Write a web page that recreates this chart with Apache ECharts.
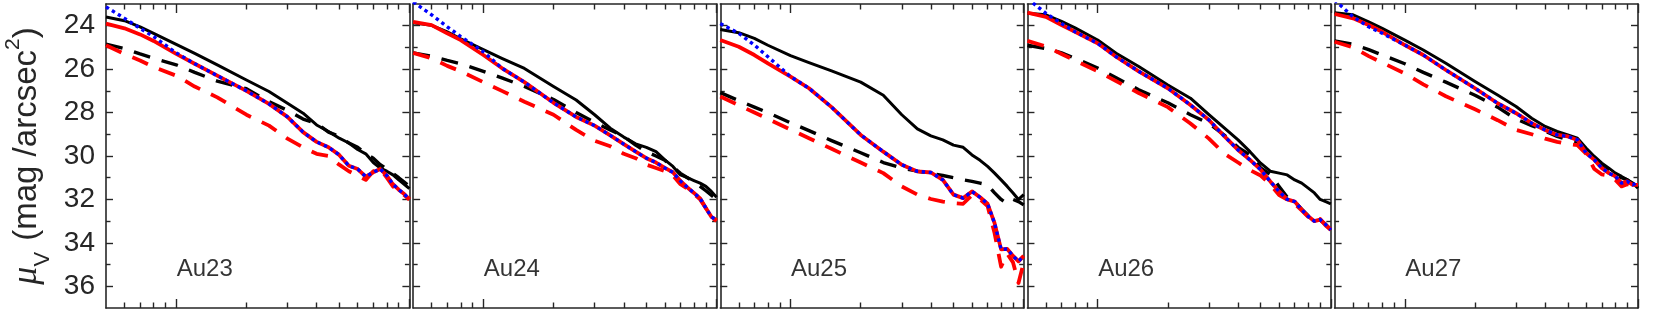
<!DOCTYPE html>
<html><head><meta charset="utf-8">
<script src="https://cdn.jsdelivr.net/npm/echarts@6/dist/echarts.min.js"></script>
<style>html,body{margin:0;padding:0;background:#fff}#c{width:1661px;height:314px}</style>
</head><body><div id="c"></div><script>
// ---------------- data ----------------
const radius = [0.5,0.6,0.7,0.8,1,1.2,1.5,2,2.5,3,3.5,4,4.5,5,5.5,6,6.5,7,7.5,8,8.5,9,9.5,10];
const panelNames = ['Au23','Au24','Au25','Au26','Au27'];
const yTickLabels = [24,26,28,30,32,34,36];
const yMinorTicks = [25,27,29,31,33,35];
const xMajorTicks = [1,10];
const xMinorTicks = [0.6,0.7,0.8,0.9,2,3,4,5,6,7,8,9];

const au23BlackSolid  = [23.6,23.77,24.05,24.35,24.86,25.27,25.8,26.5,27.03,27.57,28.03,28.57,28.87,29.18,29.4,29.7,29.9,30.3,30.56,30.7,30.87,31.1,31.3,31.5];
const au23BlackDashed = [24.85,25.05,25.3,25.5,25.8,26.15,26.55,26.9,27.5,27.9,28.3,28.5,28.9,29.1,29.4,29.6,29.9,30.1,30.4,30.6,30.8,31.0,31.2,31.4];
const au23RedSolid    = [23.9,24.12,24.4,24.7,25.3,25.75,26.3,27.0,27.6,28.2,28.9,29.35,29.6,29.95,30.45,30.6,30.95,30.75,30.6,30.9,31.3,31.55,31.75,32.0];
const au23RedDashed   = [24.9,25.3,25.6,25.9,26.3,26.8,27.3,28.1,28.6,29.2,29.6,29.9,30.0,30.4,30.7,30.9,31.1,30.7,30.6,31.0,31.4,31.6,31.8,32.0];
const au23Blue        = [23.13,23.66,24.12,24.5,25.25,25.75,26.3,27.0,27.6,28.2,28.9,29.35,29.6,29.95,30.45,30.6,30.95,30.75,30.6,30.9,31.3,31.55,31.75,32.0];

const au24BlackSolid  = [23.86,23.98,24.28,24.6,25.1,25.5,25.97,26.8,27.42,28.1,28.72,29.13,29.44,29.6,29.8,30.18,30.48,30.87,31.0,31.13,31.25,31.4,31.63,31.9];
const au24BlackDashed = [25.25,25.4,25.6,25.75,26.1,26.4,26.8,27.4,28.0,28.45,28.8,29.1,29.5,29.8,30.0,30.2,30.5,30.8,31.0,31.2,31.4,31.6,31.8,32.0];
const au24RedSolid    = [23.82,23.97,24.35,24.66,25.35,25.95,26.6,27.55,28.2,28.6,29.05,29.45,29.8,30.1,30.3,30.55,30.75,31.15,31.45,31.7,31.95,32.4,32.8,32.95];
const au24RedDashed   = [25.25,25.5,25.85,26.1,26.6,27.0,27.5,28.1,28.8,29.3,29.55,29.9,30.1,30.4,30.55,30.7,30.9,31.3,31.5,31.75,32.0,32.4,32.8,33.0];
const au24Blue        = [22.9,23.5,24.05,24.5,25.2,25.95,26.6,27.55,28.2,28.6,29.05,29.45,29.8,30.1,30.3,30.55,30.75,31.15,31.45,31.7,31.95,32.4,32.8,32.95];

const au25BlackSolid  = [24.17,24.32,24.58,24.9,25.38,25.7,26.08,26.6,27.2,28.1,28.75,29.07,29.26,29.5,29.6,29.95,30.2,30.48,30.79,31.1,31.4,31.7,32.0,31.78];
const au25BlackDashed = [27.08,27.45,27.75,28.0,28.47,28.83,29.29,29.85,30.3,30.56,30.7,30.8,30.9,31.0,31.1,31.17,31.25,31.33,31.7,32.0,32.2,32.0,32.1,32.25];
const au25RedSolid    = [24.66,24.97,25.35,25.73,26.34,26.88,27.75,29.03,29.8,30.4,30.71,30.76,31.1,31.78,31.94,31.63,31.9,32.2,33.09,34.3,34.28,34.6,34.85,34.6];
const au25RedDashed   = [27.26,27.66,28.0,28.29,28.78,29.18,29.67,30.3,30.79,31.4,31.78,31.98,32.1,32.17,32.2,31.8,32.0,32.3,33.55,35.1,34.5,34.9,35.85,34.9];
const au25Blue        = [23.9,24.35,24.89,25.43,26.34,26.88,27.75,29.03,29.8,30.4,30.71,30.76,31.1,31.78,31.94,31.63,31.9,32.2,33.09,34.3,34.28,34.6,34.85,34.6];

const au26BlackSolid  = [23.43,23.5,23.8,24.1,24.66,25.27,25.88,26.73,27.34,28.1,28.72,29.26,29.8,30.33,30.7,30.79,30.87,31.1,31.25,31.48,31.7,32.0,32.1,32.2];
const au26BlackDashed = [24.9,25.05,25.25,25.5,25.95,26.4,26.95,27.55,28.1,28.5,29.05,29.6,29.95,30.55,30.85,31.4,31.9,32.1,32.45,32.75,33.0,32.95,33.15,33.4];
const au26RedSolid    = [23.4,23.59,23.97,24.28,24.81,25.43,26.1,26.88,27.65,28.34,29.1,29.72,30.18,30.63,31.17,31.63,32.0,32.1,32.47,32.78,33.0,32.93,33.16,33.4];
const au26RedDashed   = [24.7,24.95,25.3,25.6,26.1,26.55,27.1,27.75,28.5,29.2,29.9,30.3,30.65,30.9,31.3,31.8,32.0,32.2,32.5,32.8,33.0,32.9,33.2,33.4];
const au26Blue        = [22.75,23.43,23.9,24.28,24.81,25.43,26.1,26.88,27.65,28.34,29.1,29.72,30.18,30.63,31.17,31.63,32.0,32.1,32.47,32.78,33.0,32.93,33.16,33.4];

const au27BlackSolid  = [23.4,23.5,23.82,24.12,24.66,25.12,25.73,26.57,27.19,27.72,28.26,28.64,28.87,29.03,29.18,29.64,30.02,30.33,30.56,30.79,30.94,31.1,31.25,31.48];
const au27BlackDashed = [24.7,24.85,25.1,25.35,25.75,26.15,26.6,27.2,27.75,28.3,28.6,28.85,29.1,29.25,29.35,29.8,30.1,30.5,30.7,30.9,31.0,31.1,31.3,31.45];
const au27RedSolid    = [23.46,23.66,23.97,24.28,24.89,25.35,26.04,26.88,27.57,28.03,28.49,28.8,29.03,29.1,29.26,29.87,30.18,30.56,30.79,30.94,31.25,31.17,31.33,31.33];
const au27RedDashed   = [24.74,25.0,25.4,25.7,26.2,26.7,27.25,27.85,28.35,28.8,29.0,29.2,29.35,29.45,29.5,29.9,30.6,30.85,30.9,31.1,31.4,31.3,31.4,31.45];
const au27Blue        = [22.82,23.59,24.05,24.35,24.89,25.35,26.04,26.88,27.57,28.03,28.49,28.8,29.03,29.1,29.26,29.87,30.18,30.56,30.79,30.94,31.25,31.17,31.33,31.2];

const panels = [
  {bs: au23BlackSolid, bd: au23BlackDashed, rs: au23RedSolid, rd: au23RedDashed, bl: au23Blue},
  {bs: au24BlackSolid, bd: au24BlackDashed, rs: au24RedSolid, rd: au24RedDashed, bl: au24Blue},
  {bs: au25BlackSolid, bd: au25BlackDashed, rs: au25RedSolid, rd: au25RedDashed, bl: au25Blue},
  {bs: au26BlackSolid, bd: au26BlackDashed, rs: au26RedSolid, rd: au26RedDashed, bl: au26Blue},
  {bs: au27BlackSolid, bd: au27BlackDashed, rs: au27RedSolid, rd: au27RedDashed, bl: au27Blue}
];
const labelRadius = 1;
const labelMu = 35.2;

// ---------------- layout ----------------
const gLeft = 106, gW = 303.4, gStep = 307.15, gTop = 4, gH = 304;
const axisCol = '#262626';
const FONT = '"Liberation Sans", Arial, Helvetica, sans-serif';
const lg = v => Math.log10(v);
const xMin = lg(0.5), xMax = lg(10);

const grid = [], xAxis = [], yAxis = [], series = [];
panels.forEach((p, i) => {
  grid.push({left: gLeft + i * gStep, top: gTop, width: gW, height: gH, show: false, outerBoundsMode: 'none', containLabel: false});
  const xBase = {type: 'value', gridIndex: i, min: xMin, max: xMax, splitLine: {show: false},
    axisLabel: {show: false}};
  xAxis.push(Object.assign({}, xBase, {position: 'bottom',
    axisLine: {show: true, onZero: false, lineStyle: {color: axisCol, width: 1.6}},
    axisTick: {show: true, inside: true, length: 5.5, lineStyle: {color: axisCol, width: 1.4}, customValues: xMinorTicks.map(lg)}}));
  xAxis.push(Object.assign({}, xBase, {position: 'top',
    axisLine: {show: true, onZero: false, lineStyle: {color: axisCol, width: 1.6}},
    axisTick: {show: true, inside: true, length: 5.5, lineStyle: {color: axisCol, width: 1.4}, customValues: xMinorTicks.map(lg)}}));
  xAxis.push(Object.assign({}, xBase, {position: 'bottom', axisLine: {show: false, onZero: false},
    axisTick: {show: true, inside: true, length: 9, lineStyle: {color: axisCol, width: 1.4}, customValues: xMajorTicks.map(lg)}}));
  xAxis.push(Object.assign({}, xBase, {position: 'top', axisLine: {show: false, onZero: false},
    axisTick: {show: true, inside: true, length: 9, lineStyle: {color: axisCol, width: 1.4}, customValues: xMajorTicks.map(lg)}}));

  const yBase = {type: 'value', gridIndex: i, min: 23, max: 37, inverse: true, splitLine: {show: false}};
  const leftMain = Object.assign({}, yBase, {position: 'left',
    axisLine: {show: true, onZero: false, lineStyle: {color: axisCol, width: 1.6}},
    axisTick: {show: true, inside: true, length: 7, lineStyle: {color: axisCol, width: 1.4}, customValues: yTickLabels},
    axisLabel: {show: i === 0, customValues: yTickLabels, fontSize: 28, fontFamily: FONT, color: axisCol, margin: 11}});
  if (i === 0) {
    leftMain.name = '{mu|μ}{sub|V}{txt| (mag /arcsec}{sup|2}{txt|)}';
    leftMain.nameLocation = 'middle';
    leftMain.nameRotate = 90;
    leftMain.nameGap = 58;
    leftMain.nameTextStyle = {color: axisCol, fontFamily: FONT, fontSize: 33, lineHeight: 42,
      rich: {
        txt: {fontSize: 33, fontFamily: FONT, color: axisCol, lineHeight: 42},
        mu: {fontSize: 36, fontFamily: '"Liberation Serif", "DejaVu Serif", serif', fontStyle: 'italic', color: axisCol, lineHeight: 42},
        sub: {fontSize: 22, fontFamily: FONT, color: axisCol, verticalAlign: 'bottom', lineHeight: 42, padding: [0, 2, -6, 0]},
        sup: {fontSize: 21, fontFamily: FONT, color: axisCol, verticalAlign: 'top', lineHeight: 42, padding: [-3, 0, 0, 0]}
      }};
  }
  yAxis.push(leftMain);
  yAxis.push(Object.assign({}, yBase, {position: 'right',
    axisLine: {show: true, onZero: false, lineStyle: {color: axisCol, width: 1.6}},
    axisTick: {show: true, inside: true, length: 7, lineStyle: {color: axisCol, width: 1.4}, customValues: yTickLabels},
    axisLabel: {show: false}}));
  yAxis.push(Object.assign({}, yBase, {position: 'left', axisLine: {show: false, onZero: false},
    axisTick: {show: true, inside: true, length: 4.5, lineStyle: {color: axisCol, width: 1.4}, customValues: yMinorTicks},
    axisLabel: {show: false}}));
  yAxis.push(Object.assign({}, yBase, {position: 'right', axisLine: {show: false, onZero: false},
    axisTick: {show: true, inside: true, length: 4.5, lineStyle: {color: axisCol, width: 1.4}, customValues: yMinorTicks},
    axisLabel: {show: false}}));

  const xi = i * 4, yi = i * 4;
  const mk = (vals) => vals.map((v, k) => [lg(radius[k]), v]);
  const line = (vals, color, width, type, z) => ({
    type: 'line', xAxisIndex: xi, yAxisIndex: yi, data: mk(vals), symbol: 'none', showSymbol: false,
    clip: true, z: z, silent: true, animation: false,
    lineStyle: {color: color, width: width, type: type, cap: 'butt', join: 'round'}
  });
  series.push(line(p.bs, '#000000', 3, 'solid', 2));
  series.push(line(p.bd, '#000000', 3.4, [17, 12], 3));
  series.push(line(p.rd, '#ff0000', 3.8, [17, 12], 4));
  series.push(line(p.rs, '#ff0000', 3.8, 'solid', 5));
  series.push(line(p.bl, '#0000ff', 3.4, [3.4, 3.6], 6));
  series.push({
    type: 'scatter', xAxisIndex: xi, yAxisIndex: yi, silent: true, animation: false,
    data: [{value: [lg(labelRadius), labelMu], name: panelNames[i]}],
    symbolSize: 1, itemStyle: {color: 'rgba(0,0,0,0)'}, z: 7,
    label: {show: true, position: 'right', distance: 0, formatter: '{b}', fontSize: 24, fontFamily: FONT, color: '#000'}
  });
});

const chart = echarts.init(document.getElementById('c'), null, {renderer: 'canvas'});
chart.setOption({animation: false, backgroundColor: '#ffffff', grid, xAxis, yAxis, series});
</script></body></html>
